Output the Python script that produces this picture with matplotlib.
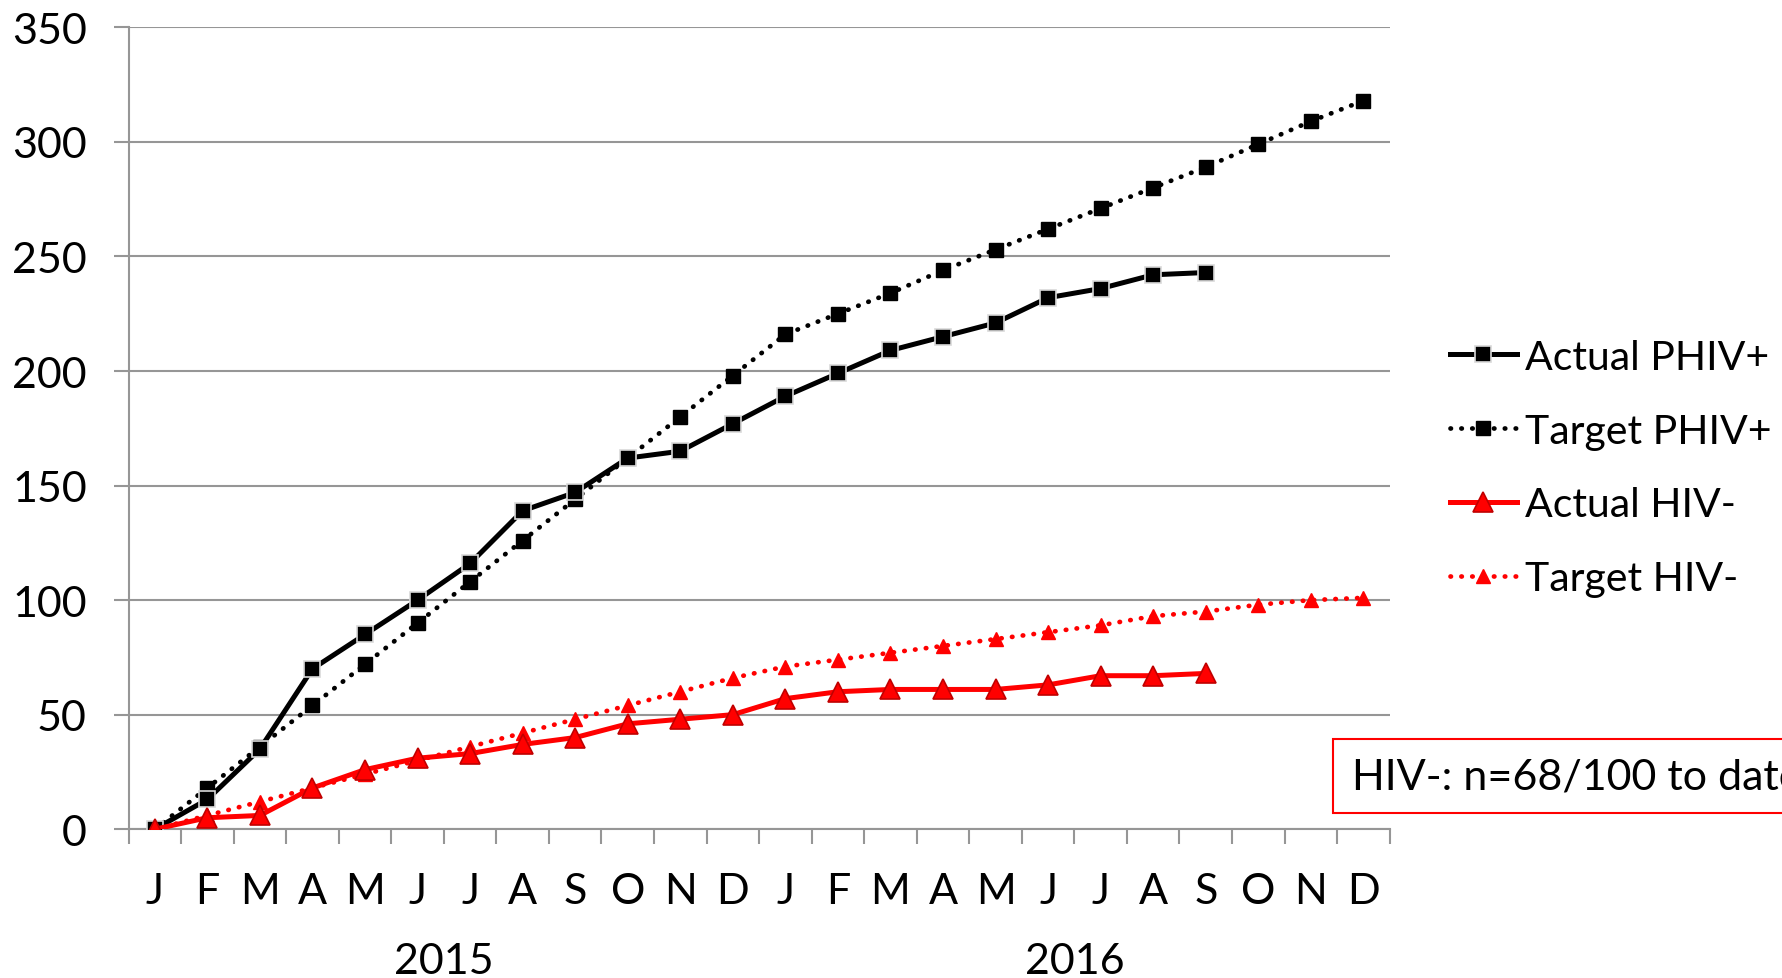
import matplotlib
matplotlib.use("Agg")
import matplotlib.pyplot as plt
import matplotlib.transforms as mtransforms
import numpy as np

plt.rcParams["font.family"] = ["Lato", "DejaVu Sans"]

months = ["J", "F", "M", "A", "M", "J", "J", "A", "S", "O", "N", "D",
          "J", "F", "M", "A", "M", "J", "J", "A", "S", "O", "N", "D"]
years = ["2015", "2016"]

actual_phiv = [0, 13, 35, 70, 85, 100, 116, 139, 147, 162, 165, 177,
               189, 199, 209, 215, 221, 232, 236, 242, 243]
target_phiv = [0, 18, 36, 54, 72, 90, 108, 126, 144, 162, 180, 198,
               216, 225, 234, 244, 253, 262, 271, 280, 289, 299, 309, 318]
actual_hivneg = [0, 5, 6, 18, 26, 31, 33, 37, 40, 46, 48, 50,
                 57, 60, 61, 61, 61, 63, 67, 67, 68]
target_hivneg = [0, 6, 12, 18, 24, 30, 36, 42, 48, 54, 60, 66,
                 71, 74, 77, 80, 83, 86, 89, 93, 95, 98, 100, 101]

GRID = "#969696"
RED = "#ff0000"
FS = 31
LEG_FS = 29.5

fig = plt.figure(figsize=(17.83, 9.79), dpi=100)
ax = fig.add_axes([0.0721, 0.152, 0.7073, 0.819])

x_all = np.arange(len(months))
dot = (0, (0.1, 2.2))

ax.plot(x_all[:len(actual_phiv)], actual_phiv, color="black", linewidth=3.6,
        marker="s", markersize=12, markerfacecolor="black",
        markeredgecolor="#d9d9d9", markeredgewidth=1.2, label="Actual PHIV+", zorder=4)
ax.plot(x_all[:len(target_phiv)], target_phiv, color="black", linewidth=3.4,
        linestyle=dot, dash_capstyle="round", marker="s", markersize=10,
        markerfacecolor="black", markeredgecolor="black",
        label="Target PHIV+", zorder=3)
ax.plot(x_all[:len(actual_hivneg)], actual_hivneg, color=RED, linewidth=3.6,
        marker="^", markersize=14, markerfacecolor=RED,
        markeredgecolor="#c00000", markeredgewidth=1.2, label="Actual HIV-", zorder=4)
ax.plot(x_all[:len(target_hivneg)], target_hivneg, color=RED, linewidth=3.4,
        linestyle=dot, dash_capstyle="round", marker="^", markersize=10,
        markerfacecolor=RED, markeredgecolor=RED,
        label="Target HIV-", zorder=3)

ax.set_xlim(-0.5, len(months) - 0.5)
ax.set_ylim(0, 350)
ax.set_yticks(np.arange(0, 351, 50))
ax.grid(True, axis="y", color=GRID, linewidth=1.5)
ax.set_axisbelow(True)

for side in ["top", "right"]:
    ax.spines[side].set_visible(False)
ax.spines["left"].set_color(GRID)
ax.spines["left"].set_linewidth(1.5)
ax.spines["bottom"].set_color(GRID)
ax.spines["bottom"].set_linewidth(1.5)

ax.set_xticks(x_all)
ax.set_xticklabels(months)
ax.set_xticks(np.arange(-0.5, len(months), 1), minor=True)
ax.tick_params(axis="x", which="major", length=0, pad=31, labelsize=FS)
ax.tick_params(axis="x", which="minor", length=11, width=1.5, color=GRID)
ax.tick_params(axis="y", length=11, width=1.5, color=GRID, pad=19, labelsize=FS)

trans = mtransforms.blended_transform_factory(ax.transData, ax.transAxes)
for i, yr in enumerate(years):
    ax.text(5.5 + 12 * i, -0.165, yr, transform=trans, ha="center", va="center",
            fontsize=FS)

fig.legend(loc="center left", bbox_to_anchor=(0.813, 0.521), frameon=False,
           fontsize=LEG_FS, borderpad=0, borderaxespad=0, handlelength=1.64,
           handletextpad=0.2, labelspacing=0.9)

# the reference crops this box at the right edge of the figure
fig.text(0.758, 0.206, "HIV-: n=68/100 to date", fontsize=FS, ha="left", va="center",
         bbox=dict(boxstyle="square,pad=0.42", facecolor="white", edgecolor=RED,
                   linewidth=1.5))

fig.savefig("out.png", dpi=100)
